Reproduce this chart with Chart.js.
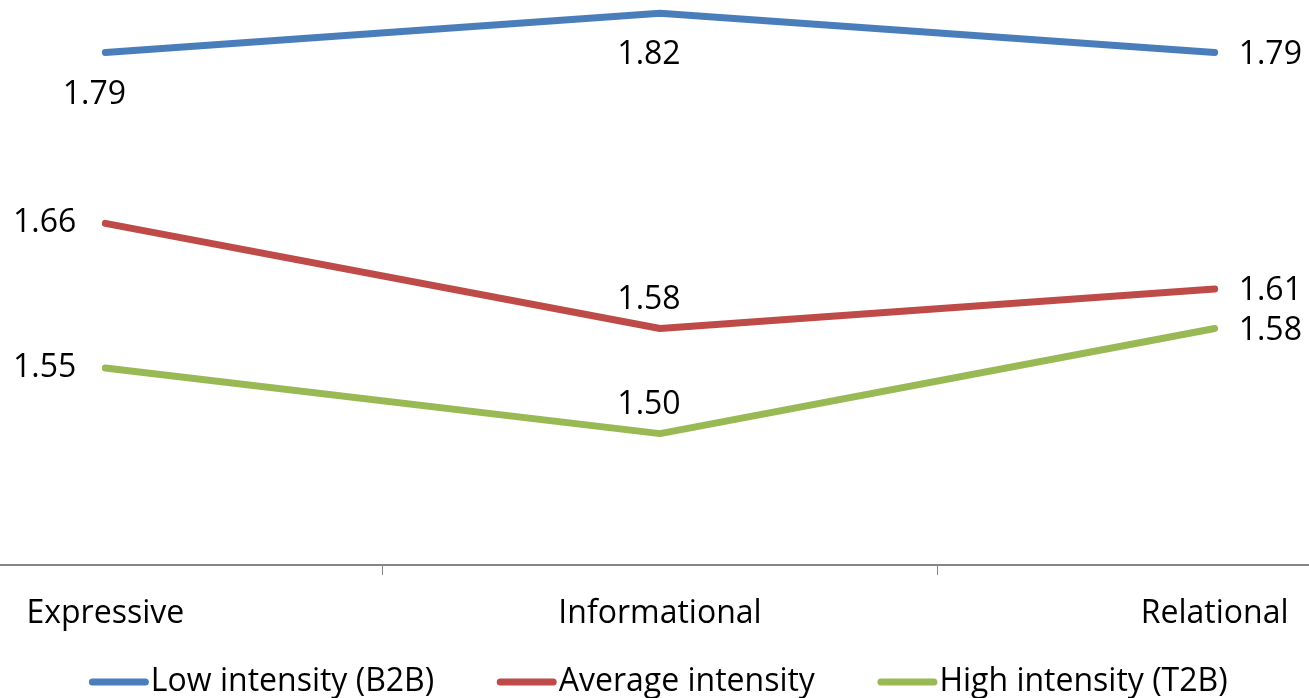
<!DOCTYPE html>
<html>
<head>
<meta charset="utf-8">
<script src="https://cdn.jsdelivr.net/npm/chart.js@4.4.1/dist/chart.umd.min.js"></script>
<style>
  html, body { margin: 0; padding: 0; background: #fff; overflow: hidden; }
  #wrap { position: absolute; left: -172px; top: 0; width: 1664px; height: 708px; }
</style>
</head>
<body>
<div id="wrap"><canvas id="intensityChart"></canvas></div>
<script>
    // categories and series values
    var categories = ['Expressive', 'Informational', 'Relational'];
    var lowIntensity = [1.79, 1.82, 1.79];
    var averageIntensity = [1.66, 1.58, 1.61];
    var highIntensity = [1.55, 1.50, 1.58];

    // where each value label sits relative to its point
    var lowLabelPos = ['below', 'below', 'right'];
    var averageLabelPos = ['left', 'above', 'right'];
    var highLabelPos = ['left', 'above', 'right'];

    var FONT = '"Open Sans", "Liberation Sans", sans-serif';
    var FONT_SIZE = 32;

    // draws the value next to every point
    var valueLabels = {
        id: 'valueLabels',
        afterDatasetsDraw: function(chart) {
            var ctx = chart.ctx;
            ctx.save();
            ctx.font = FONT_SIZE + 'px ' + FONT;
            ctx.fillStyle = '#000';
            ctx.textBaseline = 'middle';
            chart.data.datasets.forEach(function(ds, i) {
                var meta = chart.getDatasetMeta(i);
                meta.data.forEach(function(pt, j) {
                    var text = ds.data[j].toFixed(2);
                    var x = pt.x, y = pt.y;
                    switch (ds.labelPos[j]) {
                        case 'below': ctx.textAlign = 'center'; x -= 11; y += 42; break;
                        case 'above': ctx.textAlign = 'center'; x -= 11; y -= 29; break;
                        case 'left':  ctx.textAlign = 'right';  x -= 29; y += 0; break;
                        default:      ctx.textAlign = 'left';   x += 24; y += 2; break;
                    }
                    ctx.fillText(text, x, y);
                });
            });
            ctx.restore();
        }
    };

    // legend row under the axis: short thick line, then the series name
    var lineLegend = {
        id: 'lineLegend',
        afterDraw: function(chart) {
            var ctx = chart.ctx;
            var lineLen = 53, gap = 5.5, spacing = 66;
            ctx.save();
            ctx.font = FONT_SIZE + 'px ' + FONT;
            var items = chart.data.datasets.map(function(ds) {
                return { text: ds.label, color: ds.borderColor, w: ctx.measureText(ds.label).width };
            });
            var total = 0;
            items.forEach(function(it, k) {
                total += lineLen + gap + it.w + (k ? spacing : 0);
            });
            var x = (chart.width - total) / 2;
            var y = chart.height - 26;
            ctx.textAlign = 'left';
            ctx.textBaseline = 'middle';
            items.forEach(function(it) {
                ctx.strokeStyle = it.color;
                ctx.lineWidth = 7;
                ctx.lineCap = 'round';
                ctx.beginPath();
                ctx.moveTo(x, y);
                ctx.lineTo(x + lineLen, y);
                ctx.stroke();
                ctx.fillStyle = '#000';
                ctx.fillText(it.text, x + lineLen + gap, y);
                x += lineLen + gap + it.w + spacing;
            });
            ctx.restore();
        }
    };

    function series(label, data, color, labelPos) {
        return {
            label: label,
            data: data,
            borderColor: color,
            backgroundColor: color,
            borderWidth: 7,
            borderCapStyle: 'round',
            borderJoinStyle: 'round',
            pointRadius: 0,
            pointHoverRadius: 0,
            tension: 0,
            labelPos: labelPos
        };
    }

    var ctx = document.getElementById('intensityChart').getContext('2d');
    var intensityChart = new Chart(ctx, {
        type: 'line',
        data: {
            labels: categories,
            datasets: [
                series('Low intensity (B2B)', lowIntensity, '#4A7EBB', lowLabelPos),
                series('Average intensity', averageIntensity, '#BE4B48', averageLabelPos),
                series('High intensity (T2B)', highIntensity, '#98B954', highLabelPos)
            ]
        },
        options: {
            responsive: true,
            maintainAspectRatio: false,
            animation: false,
            layout: { padding: { top: 0, left: 0, right: 0, bottom: 77 } },
            scales: {
                x: {
                    offset: true,
                    afterFit: function(scale) { scale.height = 66; },
                    grid: {
                        offset: true,
                        drawOnChartArea: false,
                        drawTicks: true,
                        tickLength: 10,
                        color: '#868686',
                        lineWidth: 1
                    },
                    border: { display: true, color: '#868686', width: 2 },
                    ticks: {
                        color: '#000',
                        padding: 20,
                        maxRotation: 0,
                        font: { family: FONT, size: FONT_SIZE }
                    }
                },
                y: {
                    display: false,
                    min: 1.40,
                    max: 1.83
                }
            },
            plugins: {
                legend: { display: false },
                tooltip: { enabled: false }
            }
        },
        plugins: [valueLabels, lineLegend]
    });
</script>
</body>
</html>
